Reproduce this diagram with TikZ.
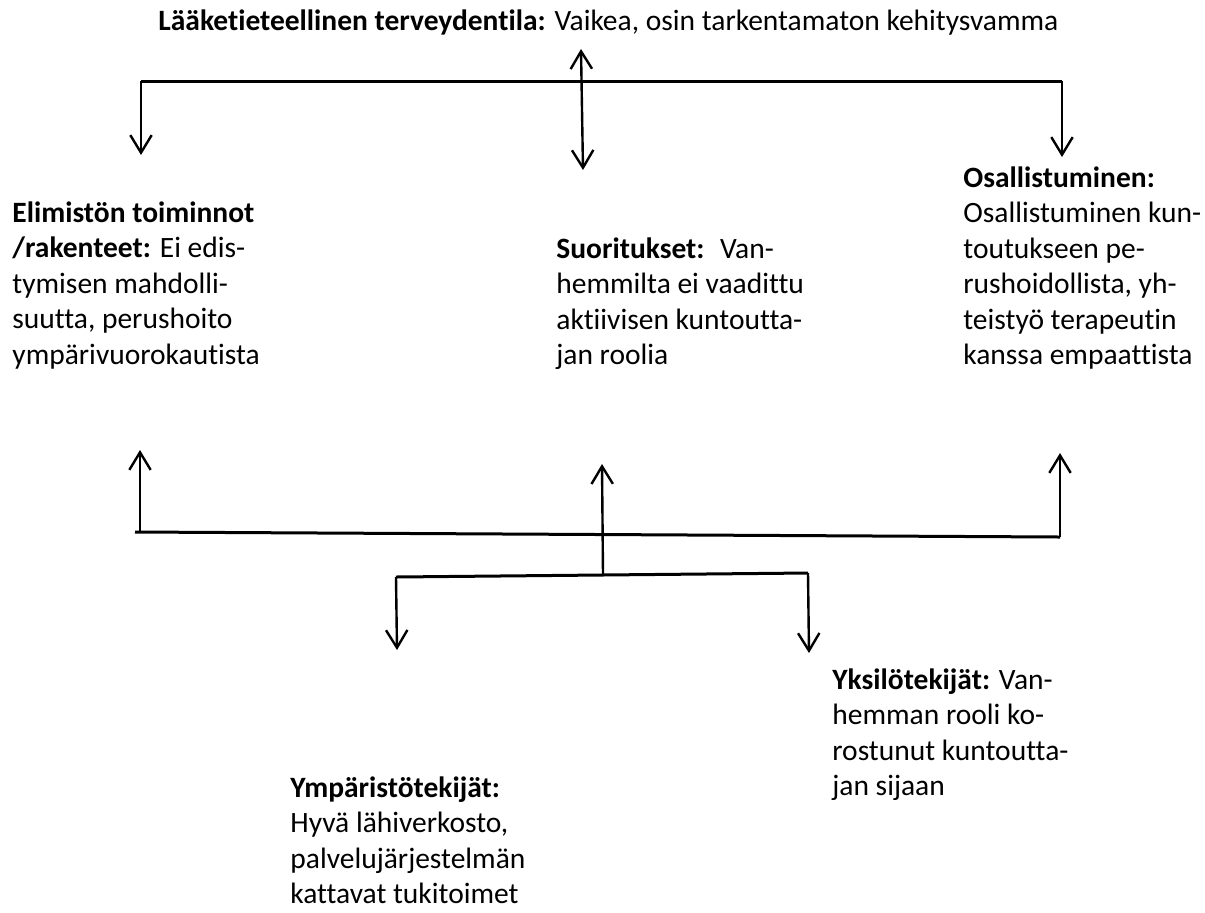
\documentclass[tikz,border=0pt]{standalone}
\usepackage{fontspec}
\setmainfont{Carlito}[Ligatures={NoCommon,NoContextual}]
\usetikzlibrary{arrows.meta,positioning}

\begin{document}
\begin{tikzpicture}[x=0.5pt,y=-0.5pt,>={Straight Barb[length=8.8pt,width=10.7pt]}]
\tikzstyle{txt}=[inner sep=0, anchor=north west, yshift=12.425pt, text width=140pt, align=flush left, font=\fontsize{14.75}{17.75}\selectfont]
\tikzstyle{bar}=[line width=1.5pt]
\tikzstyle{arr}=[->, line width=1.2pt]
\useasboundingbox (0,0) rectangle (1205,912);

\node[txt, text width=460pt] (tila) at (158,30) {\strut\textbf{Lääketieteellinen terveydentila:} Vaikea, osin tarkentamaton kehitysvamma};
\node[txt] (elim) at (12,222) {\strut\textbf{Elimistön toiminnot}\\\textbf{/rakenteet:} Ei edis-\\tymisen mahdolli-\\suutta, perushoito\\ympärivuorokautista};
\node[txt] (suor) at (556,258) {\strut\textbf{Suoritukset:}~ Van-\\hemmilta ei vaadittu\\aktiivisen kuntoutta-\\jan roolia};
\node[txt] (osal) at (963,187) {\strut\textbf{Osallistuminen:}\\Osallistuminen kun-\\toutukseen pe-\\rushoidollista, yh-\\teistyö terapeutin\\kanssa empaattista};
\node[txt] (yksi) at (832,689) {\strut\textbf{Yksilötekijät:} Van-\\hemman rooli ko-\\rostunut kuntoutta-\\jan sijaan};
\node[txt] (ympa) at (290,797) {\strut\textbf{Ympäristötekijät:}\\Hyvä lähiverkosto,\\palvelujärjestelmän\\kattavat tukitoimet};

\coordinate (tl) at (141,81);
\coordinate (tr) at (1062,81);
\coordinate (tilatip) at (581,49);
\coordinate (elimtip) at (141,155);
\coordinate (suortip) at (583,170);
\coordinate (osaltip) at (1062,157);

\coordinate (bl) at (135,532);
\coordinate (br) at (1060,537);
\coordinate (bl2) at (140,532);
\coordinate (elimup) at (140,450);
\coordinate (suorup) at (602,464);
\coordinate (osalup) at (1060,453);

\coordinate (ll) at (396,577);
\coordinate (lm) at (603,575);
\coordinate (lr) at (808,573);
\coordinate (ympatip) at (397,650);
\coordinate (yksitip) at (809,653);

\draw[bar] (tl) -- (tr);
\draw[arr] (tl) -- (elimtip);
\draw[arr] (tr) -- (osaltip);
\draw[arr, <->] (tilatip) -- (suortip);

\draw[bar] (bl) -- (br);
\draw[arr] (bl2) -- (elimup);
\draw[arr] (br) -- (osalup);
\draw[arr] (lm) -- (suorup);

\draw[bar] (ll) -- (lr);
\draw[arr] (ll) -- (ympatip);
\draw[arr] (lr) -- (yksitip);
\end{tikzpicture}
\end{document}
